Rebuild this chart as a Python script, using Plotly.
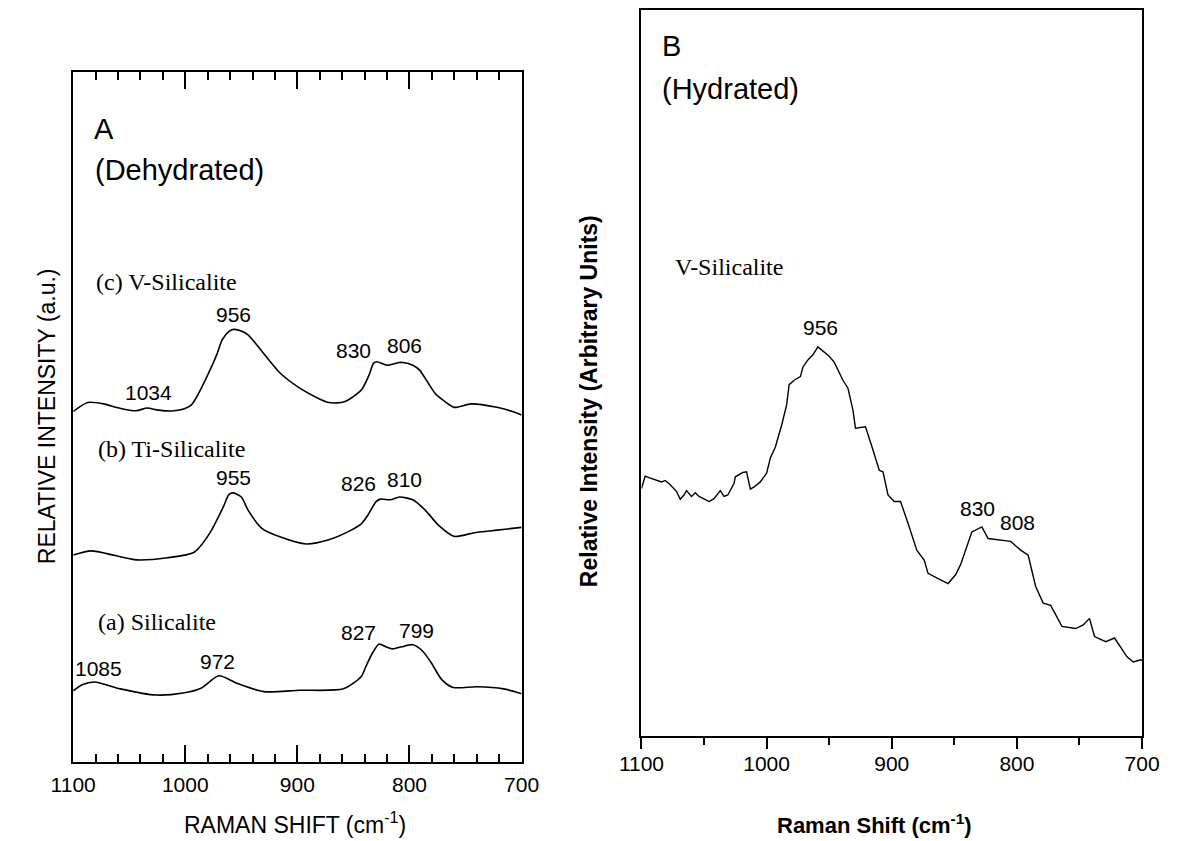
import plotly.graph_objects as go

# ---------------- Data ----------------
# Panel A (dehydrated) - Raman shift (cm-1) and relative intensity (a.u.)
a_shift = [1100, 1092, 1081, 1058, 1026, 1002, 986, 970, 954, 930, 898, 859, 843, 839, 833,
           827, 821, 815, 807, 797, 789, 781, 771, 761, 740, 716, 700]
a_int = [10.3, 11.2, 11.6, 10.6, 9.7, 10.0, 10.7, 12.5, 11.4, 10.2, 10.4, 10.6, 12.4, 13.8, 15.8,
         17.1, 16.7, 16.4, 16.7, 17.0, 16.2, 14.5, 11.9, 10.8, 10.9, 10.6, 9.9]

b_shift = [1100, 1084, 1070, 1044, 1016, 992, 978, 966, 961, 957, 950, 944, 932, 915, 892,
           872, 852, 843, 837, 830, 826, 817, 809, 797, 786, 774, 760, 743, 722, 700]
b_int = [30.0, 30.6, 30.2, 29.3, 29.6, 30.4, 33.2, 37.0, 38.8, 39.0, 38.4, 36.5, 33.9, 32.6, 31.6,
         32.2, 33.6, 34.5, 35.8, 37.7, 38.1, 38.0, 38.4, 38.0, 36.5, 34.3, 32.7, 33.2, 33.6, 34.0]

c_shift = [1100, 1087, 1073, 1059, 1044, 1034, 1024, 1010, 995, 978, 972, 967, 961, 957, 949,
           944, 929, 915, 895, 872, 858, 843, 836, 832, 829, 820, 809, 806, 797, 791, 777, 768,
           760, 745, 722, 708, 700]
c_int = [50.8, 52.1, 51.9, 51.3, 50.9, 51.3, 51.0, 50.9, 51.7, 56.8, 59.0, 61.2, 62.4, 62.7, 62.4,
         61.9, 59.0, 56.3, 53.9, 52.1, 52.2, 53.9, 56.1, 57.8, 58.0, 57.5, 57.9, 57.9, 57.5, 56.8,
         53.4, 52.2, 51.4, 51.9, 51.4, 50.8, 50.3]

# Panel B (hydrated) V-Silicalite
h_shift = [1100, 1098, 1097, 1094, 1089, 1084, 1081, 1077, 1072, 1069, 1066, 1064, 1060, 1057,
           1054, 1049, 1046, 1042, 1037, 1034, 1031, 1026, 1025, 1019, 1016, 1013, 1010, 1005,
           1000, 997, 993, 988, 984, 982, 978, 973, 971, 967, 963, 959, 955, 950, 946, 942, 939,
           935, 931, 929, 921, 915, 910, 907, 903, 898, 893, 887, 880, 874, 871, 861, 855, 849,
           845, 836, 828, 823, 814, 805, 797, 791, 785, 779, 773, 764, 753, 747, 742, 738, 729,
           722, 712, 707, 701, 700]
h_int = [34.1, 35.3, 35.8, 35.6, 35.3, 35.0, 35.2, 34.6, 33.7, 32.6, 33.2, 33.8, 33.0, 33.5,
         33.0, 32.5, 32.3, 32.7, 33.8, 33.0, 33.2, 34.8, 35.7, 36.3, 36.4, 34.0, 34.3, 35.0,
         36.2, 38.3, 39.8, 42.8, 45.6, 48.4, 49.0, 49.5, 50.8, 51.8, 52.5, 53.6, 53.0, 52.3, 51.5,
         50.0, 49.0, 47.9, 44.9, 42.4, 42.6, 39.4, 36.6, 36.4, 33.2, 32.3, 32.3, 29.3, 25.6, 24.2,
         22.4, 21.5, 21.0, 22.2, 23.6, 28.1, 28.8, 27.2, 27.0, 26.8, 25.6, 24.9, 20.6, 18.3, 18.0,
         15.1, 14.8, 15.3, 16.2, 13.7, 13.0, 13.5, 10.9, 10.2, 10.5, 10.4]

x_ticks = [1100, 1000, 900, 800, 700]

# ---------------- Figure ----------------
W, H = 1181, 841
SANS = "Liberation Sans, Arial, Helvetica, sans-serif"
SERIF = "Liberation Serif, Times New Roman, serif"

fig = go.Figure()
spline = dict(color="black", width=1.6, shape="spline", smoothing=0.7)
for xs, ys in [(a_shift, a_int), (b_shift, b_int), (c_shift, c_int)]:
    fig.add_trace(go.Scatter(x=xs, y=ys, mode="lines", line=spline, xaxis="x", yaxis="y",
                             showlegend=False, hoverinfo="skip"))
fig.add_trace(go.Scatter(x=h_shift, y=h_int, mode="lines",
                         line=dict(color="black", width=1.4), xaxis="x2", yaxis="y2",
                         showlegend=False, hoverinfo="skip"))


def px_x(p):
    return p / W


def px_y(p):
    return 1 - p / H


common_axis = dict(showgrid=False, zeroline=False, showline=True, linecolor="black",
                   linewidth=2, tickcolor="black")

fig.update_layout(
    width=W, height=H,
    margin=dict(l=0, r=0, t=0, b=0),
    paper_bgcolor="white", plot_bgcolor="white",
    xaxis=dict(**common_axis, domain=[px_x(52), px_x(516.5)], range=[1100, 700], anchor="y",
               mirror="ticks", ticks="inside", ticklen=17, tickwidth=2,
               tickvals=x_ticks, ticktext=[str(v) for v in x_ticks],
               tickfont=dict(family=SANS, size=21, color="black"), ticklabelstandoff=3,
               minor=dict(ticks="inside", ticklen=8, tickwidth=2, dtick=20, tick0=700,
                          tickcolor="black", showgrid=False)),
    yaxis=dict(**common_axis, domain=[px_y(762), px_y(72)], range=[0, 100], anchor="x",
               mirror=True, ticks="", showticklabels=False),
    xaxis2=dict(**common_axis, domain=[px_x(640.7), px_x(1159.3)], range=[1100, 700],
                anchor="y2", mirror=True, ticks="outside", ticklen=11, tickwidth=2,
                tickvals=x_ticks, ticktext=[str(v) for v in x_ticks],
                tickfont=dict(family=SANS, size=21, color="black"), ticklabelstandoff=-3,
                minor=dict(ticks="outside", ticklen=7, tickwidth=2, dtick=50, tick0=700,
                           tickcolor="black", showgrid=False)),
    yaxis2=dict(**common_axis, domain=[px_y(736), px_y(10)], range=[0, 100], anchor="x2",
                mirror=True, ticks="", showticklabels=False),
)

ann = []


def add(text, x, y, xref, yref, size, family=SANS, xanchor="center", angle=0,
        yanchor="middle"):
    ann.append(dict(text=text, x=x, y=y, xref=xref, yref=yref, showarrow=False,
                    xanchor=xanchor, yanchor=yanchor, textangle=angle,
                    font=dict(family=family, size=size, color="black")))


# Panel A texts
add("A", 1082.8, 91.7, "x", "y", 29, xanchor="left")
add("(Dehydrated)", 1081.9, 85.8, "x", "y", 29, xanchor="left")
add("(c) V-Silicalite", 1081, 69.6, "x", "y", 24, SERIF, xanchor="left")
add("(b) Ti-Silicalite", 1079.3, 45.4, "x", "y", 24, SERIF, xanchor="left")
add("(a) Silicalite", 1079.3, 20.3, "x", "y", 24, SERIF, xanchor="left")
for t, xv, yv in [("956", 957.3, 64.8), ("1034", 1033.2, 53.6), ("830", 850.3, 59.7),
                  ("806", 804.3, 60.4), ("955", 956.9, 41.2), ("826", 845.9, 40.3),
                  ("810", 804.3, 40.9), ("1085", 1077.6, 13.5), ("972", 971.1, 14.6),
                  ("827", 845.7, 18.8), ("799", 794.0, 19.0)]:
    add(t, xv, yv, "x", "y", 21)

# Panel B texts
add("B", 1085.1, 95.0, "x2", "y2", 29, xanchor="left")
add("(Hydrated)", 1085.1, 89.1, "x2", "y2", 29, xanchor="left")
add("V-Silicalite", 1075.1, 64.6, "x2", "y2", 24, SERIF, xanchor="left")
for t, xv, yv in [("956", 957.3, 56.2), ("830", 831.4, 31.3), ("808", 799.7, 29.4)]:
    add(t, xv, yv, "x2", "y2", 21)

# Axis titles
add("RELATIVE INTENSITY (a.u.)", px_x(25), px_y(416), "paper", "paper", 23, angle=-90)
add("RAMAN SHIFT (cm<sup>-1</sup>)", px_x(282), px_y(840), "paper", "paper", 23,
    yanchor="bottom")
add("<b>Relative Intensity (Arbitrary Units)</b>", px_x(586), px_y(401.5), "paper", "paper",
    23, angle=-90)
add("<b>Raman Shift (cm<sup>-1</sup>)</b>", px_x(882), px_y(840), "paper", "paper", 22,
    yanchor="bottom")

fig.update_layout(annotations=ann)

fig.write_html("out.html",
               config={"displayModeBar": False},
               post_script="document.body.style.margin='0';"
                           "document.body.style.overflow='hidden';")
